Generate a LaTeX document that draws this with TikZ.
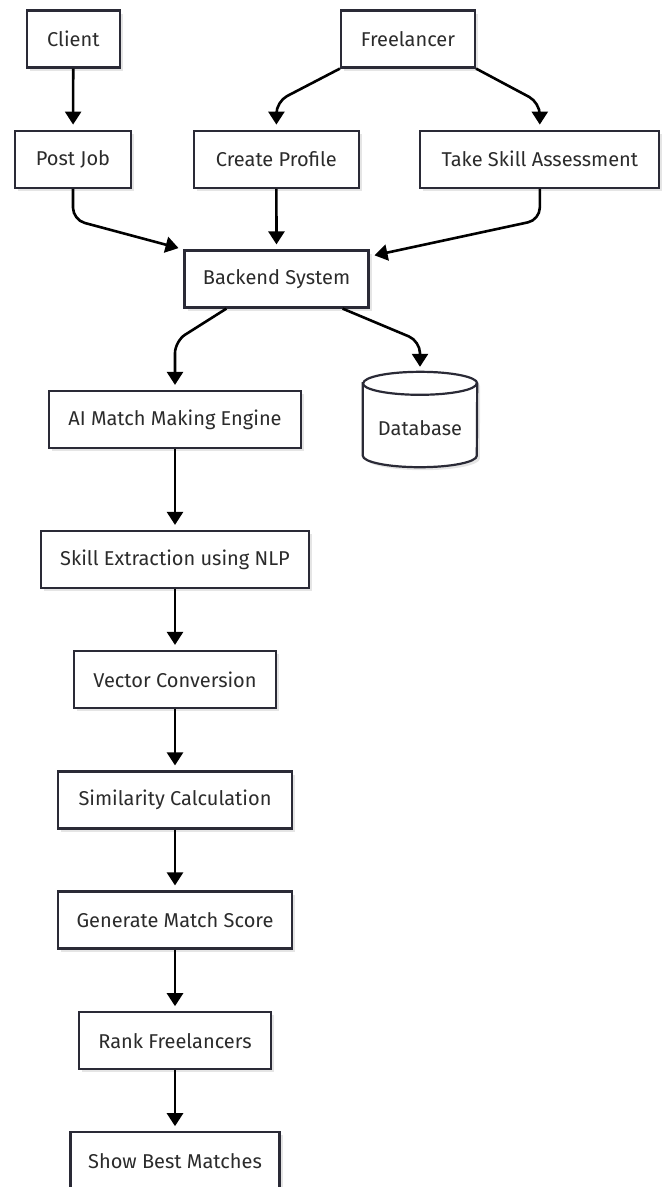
\documentclass[tikz,border=0pt]{standalone}
\usepackage{fontspec}
\setmainfont{Fira Sans}
\usetikzlibrary{arrows.meta,shadows}
\definecolor{edge}{HTML}{2A2A36}
\definecolor{ink}{HTML}{2B2B2B}
\begin{document}
\begin{tikzpicture}[x=1pt,y=1pt,
  label text/.style={text=ink, font=\fontsize{20}{24}\selectfont},
  soft shadow/.style={drop shadow={shadow xshift=3pt, shadow yshift=-3pt, opacity=0.1, fill=black}},
  box/.style={label text, draw=edge, line width=2.2pt, fill=white,
    minimum height=57pt, inner sep=0pt, soft shadow},
  flow/.style={line width=2.6pt, draw=black, rounded corners=12pt,
    -{Triangle[length=13pt,width=16pt]}, shorten >=5pt}]
\clip (0,0) rectangle (667,-1187);

% entry points
\node[box, minimum width=93pt]  (client) at (73.3,-39)    {Client};
\node[box, minimum width=134pt] (freel)  at (408,-39)     {Freelancer};

% user actions
\node[box, minimum width=116pt] (post)   at (73,-159.2)   {Post Job};
\node[box, minimum width=165pt] (create) at (276.4,-159.2) {Create Profile};
\node[box, minimum width=239pt] (assess) at (539.8,-159.2) {Take Skill Assessment};

\node[box, minimum width=184pt] (backend) at (276.5,-279) {Backend System};

% matching pipeline
\node[box, minimum width=252pt] (engine) at (175,-419.5)  {AI Match Making Engine};
\node[box, minimum width=268pt] (nlp)    at (175,-559.5)  {Skill Extraction using NLP};
\node[box, minimum width=202pt] (vector) at (175,-679.5)  {Vector Conversion};
\node[box, minimum width=234pt] (simil)  at (175,-800)    {Similarity Calculation};
\node[box, minimum width=234pt] (score)  at (175,-920)    {Generate Match Score};
\node[box, minimum width=192pt] (rank)   at (175,-1040.8) {Rank Freelancers};
\node[box, minimum width=209pt] (best)   at (175,-1160.8) {Show Best Matches};

% database cylinder
\node[minimum width=114pt, minimum height=95pt, inner sep=0pt] (db) at (420,-419.5) {};
\path[draw=edge, line width=2.2pt, fill=white, soft shadow]
  ([yshift=-11.5pt]db.north west) -- ([yshift=11.5pt]db.south west)
  arc[start angle=180, end angle=360, x radius=57pt, y radius=11.5pt]
  -- ([yshift=-11.5pt]db.north east)
  arc[start angle=0, end angle=180, x radius=57pt, y radius=11.5pt] -- cycle;
\draw[edge, line width=2.2pt] ([yshift=-11.5pt]db.north west)
  arc[start angle=180, end angle=360, x radius=57pt, y radius=11.5pt];
\node[label text] (dblabel) at (420,-428) {Database};

% connectors
\draw[flow] (client) -- (post);
\draw[flow] (freel.south west) -- ([yshift=-33pt]freel.south west -| create.north) -- (create.north);
\draw[flow] (freel.south east) -- ([yshift=-34pt]freel.south east -| assess.north) -- (assess.north);
\draw[flow] (post.south) -- ([yshift=-31pt]post.south) -- (backend.north west);
\draw[flow] (create) -- (backend);
\draw[flow] (assess.south) -- ([yshift=-31pt]assess.south) -- ([yshift=-7pt]backend.north east);
\draw[flow] ([xshift=43pt]backend.south west) -- ([yshift=-32.5pt]backend.south -| engine.north) -- (engine.north);
\draw[flow] ([xshift=-27pt]backend.south east) -- ([yshift=-32.5pt]backend.south -| db.north) -- (db.north);
\draw[flow] (engine) -- (nlp);
\draw[flow] (nlp) -- (vector);
\draw[flow] (vector) -- (simil);
\draw[flow] (simil) -- (score);
\draw[flow] (score) -- (rank);
\draw[flow] (rank) -- (best);
\end{tikzpicture}
\end{document}
